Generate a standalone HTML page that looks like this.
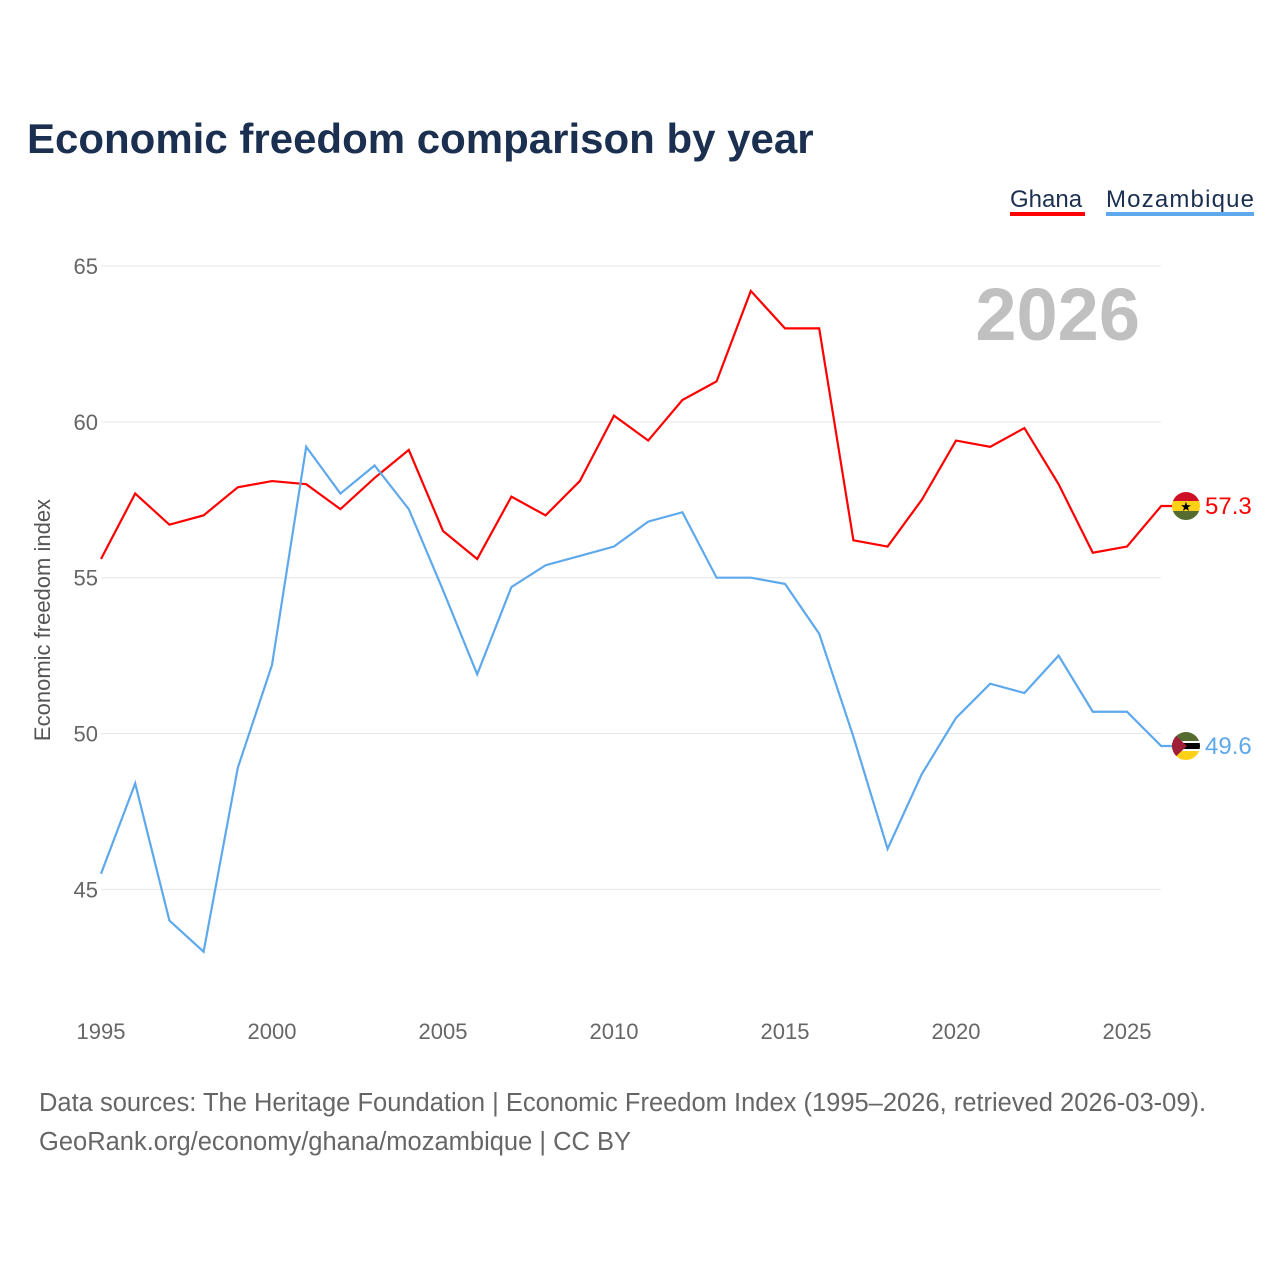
<!DOCTYPE html>
<html><head><meta charset="utf-8"><style>
body{margin:0;background:#fff;font-family:"Liberation Sans",sans-serif;}
</style></head><body>
<svg id="chart" width="1280" height="1280" xmlns="http://www.w3.org/2000/svg" style="font-family:'Liberation Sans',sans-serif">
<text x="27" y="153" font-size="42" font-weight="bold" fill="#1b3050">Economic freedom comparison by year</text>
<g>
<text x="1010" y="207" font-size="24" fill="#1b3050">Ghana</text>
<rect x="1010" y="212" width="75" height="4" fill="#ff0000"/>
<text x="1106" y="207" font-size="24" fill="#1b3050" textLength="148">Mozambique</text>
<rect x="1106" y="212" width="148" height="4" fill="#5ea8ec"/>
</g>
<text x="1140" y="340" font-size="74" font-weight="bold" fill="#c0c0c0" text-anchor="end">2026</text>
<text transform="translate(50,620) rotate(-90)" font-size="22" fill="#555" text-anchor="middle">Economic freedom index</text>
<g id="grid"></g>
<g id="xt"></g>
<g id="lines"></g>
<g font-size="25.5" fill="#666">
<text x="39" y="1111">Data sources: The Heritage Foundation | Economic Freedom Index (1995–2026, retrieved 2026-03-09).</text>
<text x="39" y="1150">GeoRank.org/economy/ghana/mozambique | CC BY</text>
</g>
</svg>
<script>
const years=[1995,1996,1997,1998,1999,2000,2001,2002,2003,2004,2005,2006,2007,2008,2009,2010,2011,2012,2013,2014,2015,2016,2017,2018,2019,2020,2021,2022,2023,2024,2025,2026];
const ghana=[55.6,57.7,56.7,57.0,57.9,58.1,58.0,57.2,58.2,59.1,56.5,55.6,57.6,57.0,58.1,60.2,59.4,60.7,61.3,64.2,63.0,63.0,56.2,56.0,57.5,59.4,59.2,59.8,58.0,55.8,56.0,57.3];
const mozambique=[45.5,48.4,44.0,43.0,48.9,52.2,59.2,57.7,58.6,57.2,54.6,51.9,54.7,55.4,55.7,56.0,56.8,57.1,55.0,55.0,54.8,53.2,49.9,46.3,48.7,50.5,51.6,51.3,52.5,50.7,50.7,49.6];
const yTicks=[45,50,55,60,65];
const xTicks=[1995,2000,2005,2010,2015,2020,2025];
const NS="http://www.w3.org/2000/svg";
const X=y=>101+(y-1995)*34.2;
const Y=v=>266+(65-v)*31.17;
function mk(t,a,p){const e=document.createElementNS(NS,t);for(const k in a)e.setAttribute(k,a[k]);p.appendChild(e);return e;}
const grid=document.getElementById('grid');
yTicks.forEach(v=>{
 const l=mk('line',{x1:101,x2:1161,y1:Y(v),y2:Y(v),stroke:'#e6e6e6','stroke-width':1},grid);
 
 
 const t=mk('text',{x:98,y:Y(v)+8,'font-size':22,fill:'#666','text-anchor':'end'},grid);t.textContent=v;
 
 
});
const xt=document.getElementById('xt');
xTicks.forEach(v=>{
 const t=mk('text',{x:X(v),y:1039,'font-size':22,fill:'#666','text-anchor':'middle'},xt);t.textContent=v;
 
 
});
const lines=document.getElementById('lines');
function series(vals,col,name){
 const pts=vals.map((v,i)=>X(years[i])+','+Y(v));
 const last=vals[vals.length-1];
 pts.push('1172,'+Y(last));
 const p=mk('polyline',{points:pts.join(' '),fill:'none',stroke:col,'stroke-width':2.2},lines);
 
 
 const t=mk('text',{x:1205,y:Y(last)+8,'font-size':24,fill:col},lines);t.textContent=last.toFixed(1);
 
 
 return Y(last);
}
const gy=series(ghana,'#ff0000','ghana');
const my=series(mozambique,'#5ea8ec','mozambique');
const cx=1186;
const f1=mk('g',{},lines);


const c1=mk('clipPath',{id:'c1'},f1);mk('circle',{cx:cx,cy:gy,r:14},c1);
const gg=mk('g',{'clip-path':'url(#c1)'},f1);
mk('rect',{x:cx-15,y:gy-15,width:30,height:10,fill:'#ce1126'},gg);
mk('rect',{x:cx-15,y:gy-5,width:30,height:10,fill:'#fcd116'},gg);
mk('rect',{x:cx-15,y:gy+5,width:30,height:10,fill:'#556b2f'},gg);
const st=mk('text',{x:cx,y:gy+5,'font-size':13,'text-anchor':'middle',fill:'#000'},gg);st.textContent='★';
const f2=mk('g',{},lines);


const c2=mk('clipPath',{id:'c2'},f2);mk('circle',{cx:cx,cy:my,r:14},c2);
const mg=mk('g',{'clip-path':'url(#c2)'},f2);
mk('rect',{x:cx-15,y:my-15,width:30,height:10,fill:'#556b2f'},mg);
mk('rect',{x:cx-15,y:my-5,width:30,height:10,fill:'#fff'},mg);
mk('rect',{x:cx-15,y:my-3,width:30,height:6,fill:'#000'},mg);
mk('rect',{x:cx-15,y:my+5,width:30,height:10,fill:'#fcd116'},mg);
mk('polygon',{points:(cx-15)+','+(my-15)+' '+(cx+1)+','+my+' '+(cx-15)+','+(my+15),fill:'#a0203a'},mg);
</script>
</body></html>
